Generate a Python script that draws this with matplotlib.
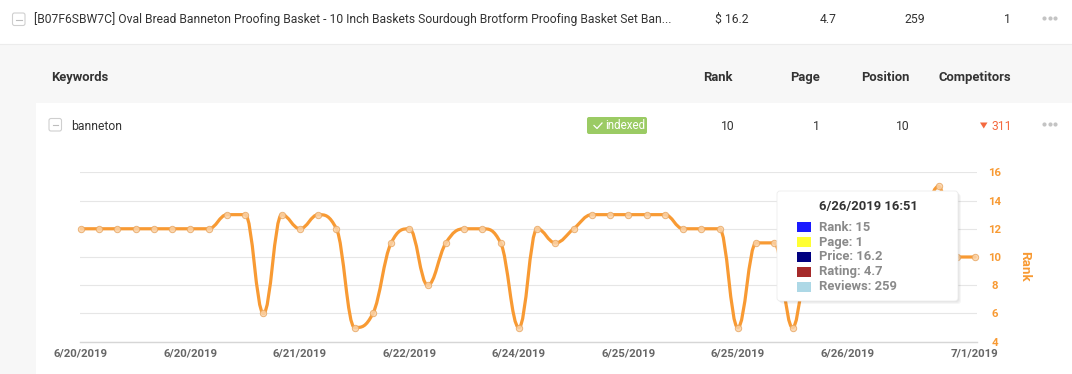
import matplotlib
matplotlib.use("Agg")
import matplotlib.pyplot as plt
import numpy as np
from matplotlib.path import Path
from matplotlib.patches import PathPatch, FancyBboxPatch, Rectangle, Polygon

plt.rcParams['font.family'] = ['Roboto', 'DejaVu Sans']

# ---- data ----
product_title = "[B07F6SBW7C] Oval Bread Banneton Proofing Basket - 10 Inch Baskets Sourdough Brotform Proofing Basket Set Ban..."
product_values = ["$ 16.2", "4.7", "259", "1"]
header_cols = ["Rank", "Page", "Position", "Competitors"]
keyword = "banneton"
keyword_values = ["10", "1", "10"]
competitors = "311"

# rank per crawl (points 40-46 sit behind the tooltip, estimated)
rank = [12, 12, 12, 12, 12, 12, 12, 12, 13, 13,
        6, 13, 12, 13, 12, 5, 6, 11, 12, 8,
        11, 12, 12, 11, 5, 12, 11, 12, 13, 13,
        13, 13, 13, 12, 12, 12, 5, 11, 11, 5,
        11, 11, 12, 12, 12, 11, 12, 15, 10, 10]
tick_idx = [0, 6, 12, 18, 24, 30, 36, 42, 49]
tick_labels = ["6/20/2019", "6/20/2019", "6/21/2019", "6/22/2019", "6/24/2019",
               "6/25/2019", "6/25/2019", "6/26/2019", "7/1/2019"]
y_ticks = [4, 6, 8, 10, 12, 14, 16]

tooltip_title = "6/26/2019 16:51"
tooltip_items = ["Rank: 15", "Page: 1", "Price: 16.2", "Rating: 4.7", "Reviews: 259"]
tooltip_colors = ["#1a1aff", "#ffff33", "#000080", "#a52a2a", "#add8e6"]

ORANGE = "#f89a33"
W, H = 1072, 374
FS = 8.7  # regular ui text


def spline_path(xs, ys, smoothing=1.5):
    # highcharts-style spline: control points 0.4 of the way to neighbours,
    # aligned through the point and kept between neighbouring y values
    px = np.asarray(xs, float)
    py = np.asarray(ys, float)
    n = len(px)
    lc = [(px[i], py[i]) for i in range(n)]
    rc = [(px[i], py[i]) for i in range(n)]
    denom = smoothing + 1
    for i in range(1, n - 1):
        x, y = px[i], py[i]
        lx = (smoothing * x + px[i - 1]) / denom
        ly = (smoothing * y + py[i - 1]) / denom
        rx = (smoothing * x + px[i + 1]) / denom
        ry = (smoothing * y + py[i + 1]) / denom
        corr = (ry - ly) * (rx - x) / (rx - lx) + y - ry
        ly += corr
        ry += corr
        if ly > py[i - 1] and ly > y:
            ly = max(py[i - 1], y)
            ry = 2 * y - ly
        elif ly < py[i - 1] and ly < y:
            ly = min(py[i - 1], y)
            ry = 2 * y - ly
        if ry > py[i + 1] and ry > y:
            ry = max(py[i + 1], y)
            ly = 2 * y - ry
        elif ry < py[i + 1] and ry < y:
            ry = min(py[i + 1], y)
            ly = 2 * y - ry
        lc[i] = (lx, ly)
        rc[i] = (rx, ry)
    verts = [(px[0], py[0])]
    codes = [Path.MOVETO]
    for i in range(1, n):
        verts += [rc[i - 1], lc[i], (px[i], py[i])]
        codes += [Path.CURVE4] * 3
    return Path(np.array(verts), codes)


fig = plt.figure(figsize=(W / 100, H / 100), dpi=100)

# ---- background / table UI ----
bg = fig.add_axes([0, 0, 1, 1], zorder=0)
bg.set_xlim(0, W)
bg.set_ylim(H, 0)
bg.axis('off')
bg.add_patch(Rectangle((0, 44), W, H - 44, fc='#f7f7f7', ec='none'))
bg.plot([0, W], [43.5, 43.5], color='#ececec', lw=0.8)
bg.add_patch(Rectangle((36, 103), W - 36, H - 103, fc='white', ec='none'))


def checkbox(x, y):
    bg.add_patch(FancyBboxPatch((x, y), 12.5, 12.5, boxstyle='round,pad=0,rounding_size=2',
                                fc='white', ec='#cfcfcf', lw=0.8))
    bg.plot([x + 3.5, x + 9], [y + 6.5, y + 6.5], color='#bdbdbd', lw=0.8)


def dots(y):
    bg.scatter([1044, 1049.5, 1055], [y, y, y], s=9, color='#c4c4c4', lw=0)


checkbox(12.5, 13)
bg.text(34, 19.5, product_title, fontsize=FS, color='#333333', va='center', ha='left')
for val, xr in zip(product_values, [749, 837, 925, 1011]):
    bg.text(xr, 19.5, val, fontsize=FS, color='#333333', va='center', ha='right')
dots(18)

bg.text(51, 77.5, "Keywords", fontsize=9.4, fontweight='bold', color='#333333', va='center')
for val, xr in zip(header_cols, [733, 820, 909, 1011]):
    bg.text(xr, 77.5, val, fontsize=9.4, fontweight='bold', color='#333333', va='center', ha='right')

checkbox(49, 118.5)
bg.text(71, 126, keyword, fontsize=FS, color='#333333', va='center')
bg.add_patch(FancyBboxPatch((587, 117), 60, 17, boxstyle='round,pad=0,rounding_size=2',
                            fc='#9bcb64', ec='none'))
bg.plot([594, 597, 602], [125.5, 128.5, 123], color='white', lw=0.9)
bg.text(605, 125.5, "indexed", fontsize=8.3, color='white', va='center')
for val, xr in zip(keyword_values, [735, 820, 910]):
    bg.text(xr, 126, val, fontsize=FS, color='#333333', va='center', ha='right')
bg.add_patch(Polygon([(980, 122.5), (987.5, 122.5), (983.75, 128.5)], closed=True,
                     fc='#f4693f', ec='none'))
bg.text(1012, 126, competitors, fontsize=FS, color='#f4693f', va='center', ha='right')
dots(124)

# ---- chart ----
x_left_px, x_right_px = 80, 977
y_top_px, y_bot_px = 172.3, 341.7
ax = fig.add_axes([x_left_px / W, 1 - y_bot_px / H,
                   (x_right_px - x_left_px) / W, (y_bot_px - y_top_px) / H], zorder=1)
ax.patch.set_alpha(0)
sx = (975 - 81) / (len(rank) - 1)
ax.set_xlim(-1 / sx, len(rank) - 1 + 2 / sx)
ax.set_ylim(4, 16)
for s in ['top', 'left', 'right']:
    ax.spines[s].set_visible(False)
ax.spines['bottom'].set_color('#d6d6d6')
ax.spines['bottom'].set_linewidth(1.0)
ax.set_yticks(y_ticks)
ax.grid(axis='y', color='#e6e6e6', lw=0.8)
ax.set_axisbelow(True)
ax.yaxis.tick_right()
ax.tick_params(axis='y', length=0, pad=13, labelsize=8.2, labelcolor=ORANGE)
for t in ax.get_yticklabels():
    t.set_fontweight('bold')
    t.set_horizontalalignment('center')
ax.set_xticks(tick_idx)
ax.set_xticklabels(tick_labels, fontsize=8.2, fontweight='bold', color='#666666')
ax.tick_params(axis='x', length=0, pad=5)

xs = np.arange(len(rank))
ax.add_patch(PathPatch(spline_path(xs, rank), fc='none', ec=ORANGE, lw=2.3,
                       capstyle='round', joinstyle='round', zorder=3))
ax.plot(xs, rank, ls='none', marker='o', ms=4.6, mfc='#fbd3a8', mec='#e8a865',
        mew=0.7, alpha=0.85, zorder=4, clip_on=False)

ax.yaxis.set_label_position('right')
ax.set_ylabel("Rank", fontsize=9.6, fontweight='bold', color=ORANGE, rotation=270,
              ha='center', va='center')
ax.yaxis.set_label_coords((1025 - x_left_px) / (x_right_px - x_left_px),
                          1 - (266 - y_top_px) / (y_bot_px - y_top_px))

# ---- tooltip ----
tt = fig.add_axes([0, 0, 1, 1], zorder=2)
tt.set_xlim(0, W)
tt.set_ylim(H, 0)
tt.axis('off')
tt.patch.set_alpha(0)
for d in (3, 2, 1):
    tt.add_patch(FancyBboxPatch((777 + d, 191 + d), 181, 110, boxstyle='round,pad=0,rounding_size=3',
                                fc='black', ec='none', alpha=0.035))
tt.add_patch(FancyBboxPatch((777, 191), 181, 110, boxstyle='round,pad=0,rounding_size=3',
                            fc='white', ec='#ececec', lw=0.6))
tt.text(868, 206.5, tooltip_title, fontsize=9.4, fontweight='bold', color='#333333',
        ha='center', va='center')
for k, (lab, col) in enumerate(zip(tooltip_items, tooltip_colors)):
    yc = 227 + 15 * k
    tt.add_patch(Rectangle((797, yc - 4.7), 14, 9.4, fc=col, ec='none'))
    tt.text(819, yc, lab, fontsize=9.4, fontweight='bold', color='#8a8a8a', va='center')

fig.savefig("out.png", dpi=100)
